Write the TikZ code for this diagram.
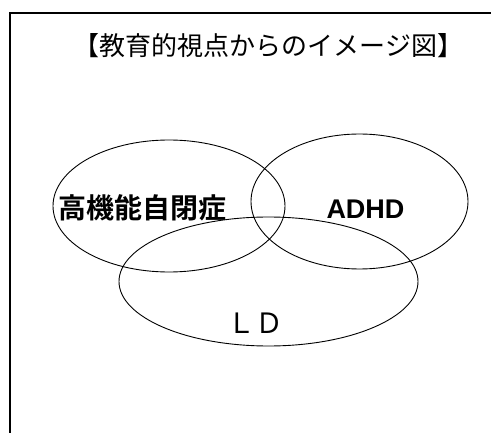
\documentclass[tikz,border=0pt]{standalone}
\usepackage{fontspec}
\setmainfont{Liberation Sans}
\newfontfamily\cjk{Noto Sans CJK JP}
\newfontfamily\cjkbold{Noto Sans CJK JP Bold}
\begin{document}
\begin{tikzpicture}[x=1pt,y=-1pt,
  oval/.style={draw=black,line width=0.9pt},
  frameline/.style={draw=black,line width=2pt},
  lbl/.style={inner sep=0pt,anchor=center}]
\useasboundingbox[fill=white] (0,0) rectangle (491,433);
\draw[frameline] (10,460) -- (10,13) -- (520,13);
\node[lbl] (title) at (268.5,46) {\fontsize{26}{30}\selectfont\cjk 【教育的視点からのイメージ図】};
\draw[oval] (169,206) ellipse [x radius=116, y radius=66];
\draw[oval] (359.5,201.5) ellipse [x radius=108.5, y radius=67.5];
\draw[oval] (268.5,281.5) ellipse [x radius=149.5, y radius=64.5];
\node[lbl] (hfa) at (143,208) {\fontsize{28}{32}\selectfont\cjkbold 高機能自閉症};
\node[lbl] (adhd) at (365.5,209) {\fontsize{27}{32}\selectfont\bfseries ADHD};
\node[lbl] (ld) at (255.5,323) {\fontsize{28}{32}\selectfont\cjk ＬＤ};
\end{tikzpicture}
\end{document}
